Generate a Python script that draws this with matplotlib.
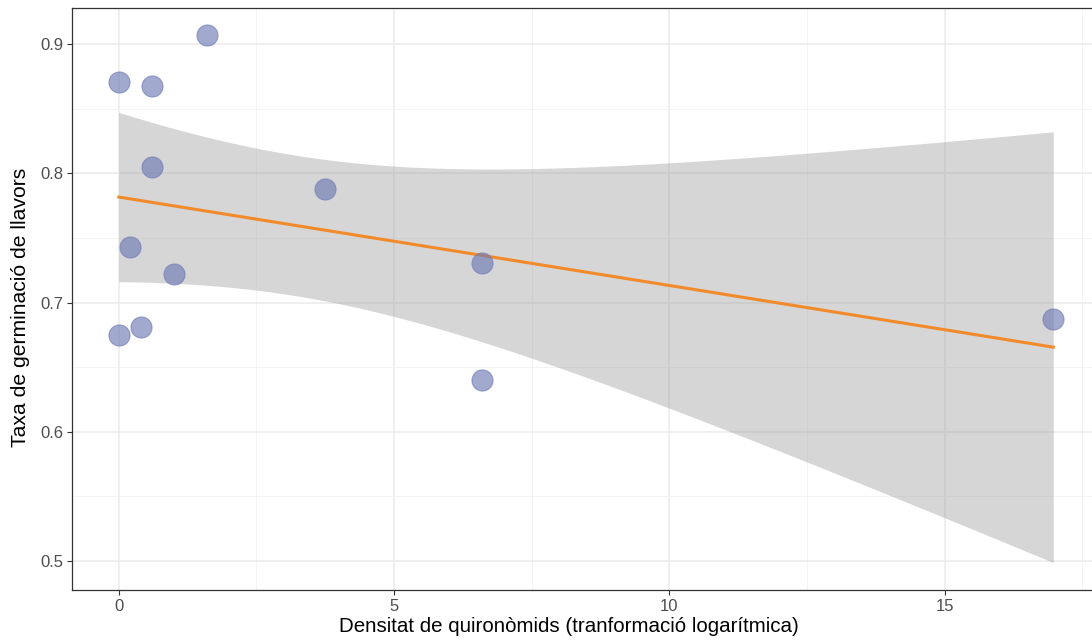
import numpy as np
import matplotlib.pyplot as plt

plt.rcParams['font.family'] = ['Liberation Sans', 'DejaVu Sans']

# densitat de quironòmids (log) i taxa de germinació
dens = [0.0, 0.6, 1.6, 0.6, 3.74, 0.2, 1.0, 6.6, 0.0, 0.4, 6.6, 16.97]
germ = [0.871, 0.868, 0.907, 0.805, 0.788, 0.743, 0.722, 0.731, 0.675, 0.681, 0.640, 0.687]

x = np.array(dens)
y = np.array(germ)
n = len(x)

# recta de regressió amb interval de confiança del 95%
slope, intercept = np.polyfit(x, y, 1)
xs = np.linspace(x.min(), x.max(), 80)
fit = intercept + slope * xs
resid = y - (intercept + slope * x)
s = np.sqrt(np.sum(resid ** 2) / (n - 2))
sxx = np.sum((x - x.mean()) ** 2)
se = s * np.sqrt(1 / n + (xs - x.mean()) ** 2 / sxx)
t_crit = 2.228  # t(0.975, df=10)
lo = fit - t_crit * se
hi = fit + t_crit * se

fig = plt.figure(figsize=(10.92, 6.44), dpi=100)
ax = fig.add_axes([0.0659, 0.0839, 0.943, 0.9037])

ax.fill_between(xs, lo, hi, color='#999999', alpha=0.4, linewidth=0, zorder=2)
ax.plot(xs, fit, color='#F28A2A', linewidth=2.2, zorder=3)
ax.scatter(x, y, s=230, color='#6F7BB5', alpha=0.65, edgecolors='#6F7BB5',
           linewidths=0.8, zorder=4)

ax.set_xlim(-0.85, 17.85)
ax.set_ylim(0.4776, 0.928)
ax.set_xticks([0, 5, 10, 15])
ax.set_yticks([0.5, 0.6, 0.7, 0.8, 0.9])
ax.set_xticks([2.5, 7.5, 12.5, 17.5], minor=True)
ax.set_yticks([0.55, 0.65, 0.75, 0.85], minor=True)
ax.tick_params(axis='both', which='minor', length=0)
ax.tick_params(axis='both', which='major', length=3.7, width=0.8, color='#333333',
               labelsize=12, labelcolor='#4D4D4D', pad=2.5)

ax.grid(which='major', color='#EBEBEB', linewidth=1.1, zorder=0)
ax.grid(which='minor', color='#F3F3F3', linewidth=0.6, zorder=0)
ax.set_axisbelow(True)
for sp in ax.spines.values():
    sp.set_color('#333333')
    sp.set_linewidth(0.9)

ax.set_xlabel('Densitat de quironòmids (tranformació logarítmica)', fontsize=14.8)
ax.set_ylabel('Taxa de germinació de llavors', fontsize=15.2)
ax.xaxis.set_label_coords(0.483, -0.047)
ax.yaxis.set_label_coords(-0.041, 0.485)

fig.savefig('out.png', dpi=100)
